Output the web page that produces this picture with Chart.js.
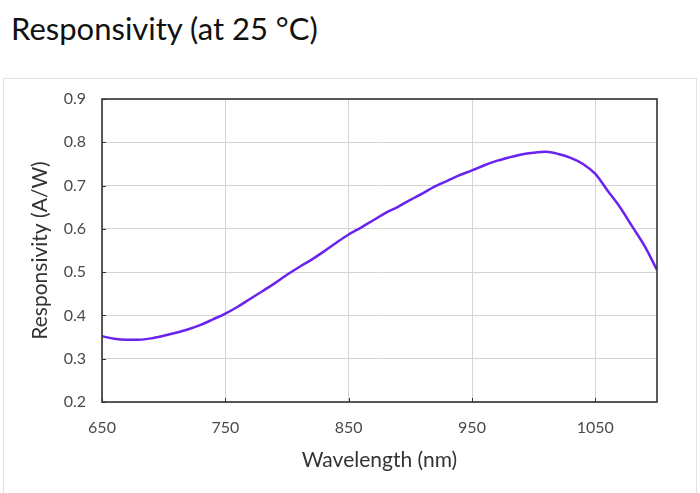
<!DOCTYPE html>
<html>
<head>
<meta charset="utf-8">
<script src="https://cdn.jsdelivr.net/npm/chart.js@4"></script>
<style>
  html, body { margin: 0; padding: 0; background: #fff; }
  body { width: 700px; height: 493px; position: relative; overflow: hidden; }
  #title {
    position: absolute; left: 11px; top: 9px;
    font-family: Lato, sans-serif; font-size: 31px; color: #111;
    white-space: nowrap;
  }
  #frame {
    position: absolute; left: 3px; top: 78px; width: 692px; height: 440px;
    border: 1.5px solid #e2e2e2;
  }
  #chart { position: absolute; left: 0; top: 0; }
</style>
</head>
<body>
<div id="title">Responsivity (at 25 °C)</div>
<div id="frame"></div>
<canvas id="chart" width="700" height="493"></canvas>
<script>
// wavelength (nm) and responsivity (A/W)
const wavelengths = [650, 660, 670, 680, 690, 700, 710, 720, 730, 740,
  750, 760, 770, 780, 790, 800, 810, 820, 830, 840,
  850, 860, 870, 880, 890, 900, 910, 920, 930, 940,
  950, 960, 970, 980, 990, 1000, 1010, 1020, 1030, 1040,
  1050, 1060, 1070, 1080, 1090, 1100];
const responsivity = [0.352, 0.346, 0.344, 0.344, 0.347, 0.353, 0.360, 0.368, 0.378, 0.391,
  0.404, 0.420, 0.438, 0.456, 0.474, 0.494, 0.512, 0.529, 0.548, 0.568,
  0.587, 0.603, 0.620, 0.637, 0.651, 0.667, 0.682, 0.698, 0.711, 0.724,
  0.735, 0.747, 0.757, 0.765, 0.772, 0.776, 0.778, 0.773, 0.764, 0.750,
  0.727, 0.688, 0.650, 0.605, 0.560, 0.505];

const xTicks = [650, 750, 850, 950, 1050];
const yTicks = [0.2, 0.3, 0.4, 0.5, 0.6, 0.7, 0.8, 0.9];

// frame round the plot plus the small inward tick marks
const plotFrame = {
  id: 'plotFrame',
  afterDatasetsDraw(chart) {
    const { ctx, chartArea: a, scales } = chart;
    ctx.save();
    ctx.strokeStyle = '#333';
    ctx.lineWidth = 1;
    ctx.beginPath();
    xTicks.forEach(v => {
      const px = Math.round(scales.x.getPixelForValue(v)) + 0.5;
      ctx.moveTo(px, a.bottom);
      ctx.lineTo(px, a.bottom - 4);
    });
    yTicks.forEach(v => {
      const py = Math.round(scales.y.getPixelForValue(v)) + 0.5;
      ctx.moveTo(a.left, py);
      ctx.lineTo(a.left + 4, py);
    });
    ctx.stroke();
    ctx.lineWidth = 1.6;
    ctx.strokeRect(a.left, a.top, a.right - a.left, a.bottom - a.top);
    ctx.restore();
  }
};

new Chart(document.getElementById('chart'), {
  type: 'line',
  data: {
    datasets: [{
      data: wavelengths.map((w, i) => ({ x: w, y: responsivity[i] })),
      borderColor: '#6a22ee',
      borderWidth: 2.5,
      pointRadius: 0,
      cubicInterpolationMode: 'monotone',
      fill: false
    }]
  },
  options: {
    responsive: false,
    animation: false,
    layout: { padding: { top: 99, right: 43, left: 0, bottom: 0 } },
    plugins: { legend: { display: false }, tooltip: { enabled: false } },
    scales: {
      x: {
        type: 'linear',
        min: 650,
        max: 1100,
        afterBuildTicks: s => { s.ticks = xTicks.map(v => ({ value: v })); },
        afterFit: s => { s.height = 91; },
        grid: { color: '#d4d4d4', drawTicks: false },
        border: { display: false },
        ticks: {
          padding: 16,
          color: '#4a4a4a',
          font: { family: 'Lato', size: 16 },
          callback: v => String(v)
        },
        title: {
          display: true,
          text: 'Wavelength (nm)',
          color: '#333',
          font: { family: 'Lato', size: 21 },
          padding: { top: 0, bottom: 20 }
        }
      },
      y: {
        min: 0.2,
        max: 0.9,
        afterBuildTicks: s => { s.ticks = yTicks.map(v => ({ value: v })); },
        afterFit: s => { s.width = 102; },
        grid: { color: '#d4d4d4', drawTicks: false },
        border: { display: false },
        ticks: {
          padding: 16,
          color: '#4a4a4a',
          font: { family: 'Lato', size: 16 },
          callback: v => v.toFixed(1)
        },
        title: {
          display: true,
          text: 'Responsivity (A/W)',
          color: '#333',
          font: { family: 'Lato', size: 21 },
          padding: { top: 28, bottom: 0 }
        }
      }
    }
  },
  plugins: [plotFrame]
});
</script>
</body>
</html>
